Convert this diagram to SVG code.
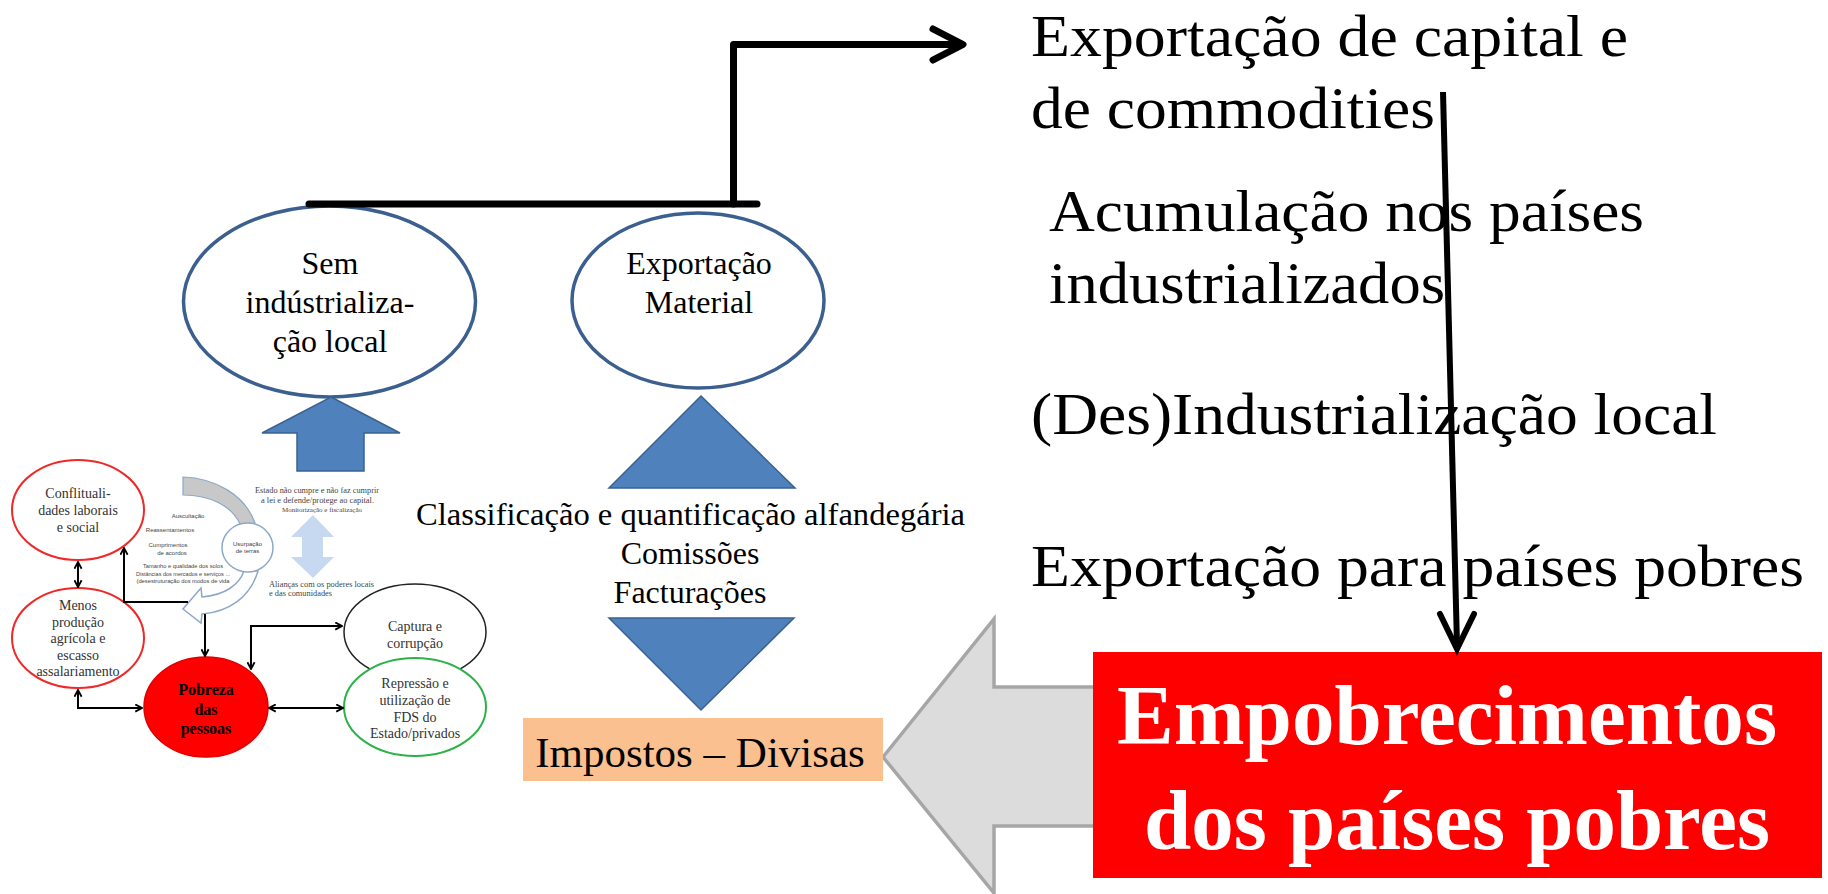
<svg xmlns="http://www.w3.org/2000/svg" width="1828" height="894" viewBox="0 0 1828 894">
<style>
.serif{font-family:"Liberation Serif","Times New Roman",serif;}
.sans{font-family:"Liberation Sans",Arial,sans-serif;}
.big{font-size:60px;fill:#000;}
.mid{font-size:32px;fill:#000;text-anchor:middle;}
.bigEll{fill:#fff;stroke:#3B5F8E;stroke-width:3.5;}
.blueShape{fill:#4F81BD;stroke:#3A6291;stroke-width:1.5;}
.thick{fill:none;stroke:#000;stroke-width:7;stroke-linecap:round;stroke-linejoin:round;}
.sm{font-size:14px;fill:#333;text-anchor:middle;}
.tiny{font-size:6px;fill:#444;text-anchor:middle;}
.small{fill:none;stroke:#000;stroke-width:2;}
.redEll{fill:#fff;stroke:#F02828;stroke-width:2;}
</style>
<defs>
<marker id="sa" viewBox="0 0 10 10" refX="9" refY="5" markerWidth="9" markerHeight="9" markerUnits="userSpaceOnUse" orient="auto-start-reverse">
<path d="M1.5,1 L9,5 L1.5,9" fill="none" stroke="#000" stroke-width="2"/>
</marker>
</defs>
<rect x="0" y="0" width="1828" height="894" fill="#fff"/>

<!-- right side texts -->
<g id="right-texts" class="serif big">
<text x="1031" y="56" textLength="597" lengthAdjust="spacingAndGlyphs">Exportação de capital e</text>
<text x="1031" y="128" textLength="404" lengthAdjust="spacingAndGlyphs">de commodities</text>
<text x="1049" y="231" textLength="595" lengthAdjust="spacingAndGlyphs">Acumulação nos países</text>
<text x="1049" y="303" textLength="396" lengthAdjust="spacingAndGlyphs">industrializados</text>
<text x="1031" y="434" textLength="686" lengthAdjust="spacingAndGlyphs">(Des)Industrialização local</text>
<text x="1031" y="586" textLength="773" lengthAdjust="spacingAndGlyphs">Exportação para países pobres</text>
</g>

<!-- grey big arrow -->
<g id="grey-arrow">
<polygon points="883,757 994,619 994,687 1095,687 1095,826 994,826 994,893" fill="#DCDCDC" stroke="#A6A6A6" stroke-width="3.5" stroke-linejoin="miter"/>
</g>

<!-- red box -->
<g id="empobrecimentos">
<rect x="1093" y="652" width="729" height="226" fill="#FF0000"/>
<text class="serif" x="1117" y="744" font-size="84" font-weight="bold" fill="#fff" textLength="660" lengthAdjust="spacingAndGlyphs">Empobrecimentos</text>
<text class="serif" x="1144" y="849" font-size="84" font-weight="bold" fill="#fff" textLength="626" lengthAdjust="spacingAndGlyphs">dos países pobres</text>
</g>

<!-- Sem industrializacao ellipse -->
<g id="sem-industrializacao">
<ellipse class="bigEll" cx="329.5" cy="301.5" rx="146" ry="95.5"/>
<text class="serif mid" x="330" y="274">Sem</text>
<text class="serif mid" x="330" y="313">indústrializa-</text>
<text class="serif mid" x="330" y="352">ção local</text>
</g>

<!-- Exportacao Material ellipse -->
<g id="exportacao-material">
<ellipse class="bigEll" cx="698" cy="300.5" rx="126" ry="87.5"/>
<text class="serif mid" x="699" y="274">Exportação</text>
<text class="serif mid" x="699" y="313">Material</text>
</g>

<!-- blue up arrow under Sem -->
<g id="blue-up-arrow">
<polygon class="blueShape" points="331,397 400,433 364,433 364,471 297,471 297,433 262,433"/>
</g>

<!-- triangles -->
<g id="tri-up"><polygon class="blueShape" points="701,396 795,488 609,488"/></g>
<g id="tri-down"><polygon class="blueShape" points="609,618 794,618 701,710"/></g>

<!-- customs text -->
<g id="alfandega">
<text class="serif" x="416" y="525" font-size="32" fill="#000" textLength="549" lengthAdjust="spacingAndGlyphs">Classificação e quantificação alfandegária</text>
<text class="serif mid" x="690" y="564">Comissões</text>
<text class="serif mid" x="690" y="603">Facturações</text>
</g>

<!-- Impostos box -->
<g id="impostos">
<rect x="523" y="718" width="360" height="63" fill="#FAC090"/>
<text class="serif" x="700" y="767" font-size="43" fill="#000" text-anchor="middle">Impostos – Divisas</text>
</g>

<!-- embedded small diagram -->
<g id="small-diagram">
<!-- curved arrow top grey band -->
<path d="M183,477 C215,478 245,495 255,523 L240,524 C232,506 210,495 183,495 Z" fill="#C8C8C8" stroke="#8EA8C8" stroke-width="1.2"/>
<!-- lower white curved arrow -->
<path d="M244,571 C239,585 225,595 202,597 L201,588 L183,609 L201,623 L202,614 C228,612 250,598 258,571 Z" fill="#fff" stroke="#8EA8C8" stroke-width="1.5"/>
<g id="usurpacao">
<ellipse cx="247.5" cy="547.5" rx="25.5" ry="24.5" fill="#fff" stroke="#8EA8C8" stroke-width="1.5"/>
<text class="sans tiny" x="247.5" y="546" font-size="6">Usurpação</text>
<text class="sans tiny" x="247.5" y="553" font-size="6">de terras</text>
</g>
<g id="small-labels-left" class="sans tiny">
<text x="188" y="518">Auscultação</text>
<text x="170" y="532">Reassentamentos</text>
<text x="168" y="547">Cumprimentos</text>
<text x="172" y="555">de acordos</text>
<text x="183" y="568" textLength="80" lengthAdjust="spacingAndGlyphs">Tamanho e qualidade dos solos</text>
<text x="183" y="576" textLength="94" lengthAdjust="spacingAndGlyphs">Distâncias dos mercados e serviços ...</text>
<text x="183" y="583" textLength="93" lengthAdjust="spacingAndGlyphs">(desestruturação dos modos de vida</text>
</g>
<g id="estado-texts" class="serif" fill="#444">
<text x="317" y="493" font-size="8.5" text-anchor="middle" textLength="124" lengthAdjust="spacingAndGlyphs">Estado não cumpre e não faz cumprir</text>
<text x="317.5" y="503" font-size="8.5" text-anchor="middle" textLength="113" lengthAdjust="spacingAndGlyphs">a lei e defende/protege ao capital.</text>
<text x="322" y="512" font-size="6.5" text-anchor="middle" textLength="80" lengthAdjust="spacingAndGlyphs">Monitorização e fiscalização</text>
<text x="269" y="587" font-size="9" textLength="105" lengthAdjust="spacingAndGlyphs">Alianças com os poderes locais</text>
<text x="269" y="596" font-size="9" textLength="63" lengthAdjust="spacingAndGlyphs">e das comunidades</text>
</g>
<g id="light-double-arrow">
<polygon points="313,515 334,537 323,537 323,557 334,557 313,578 291,557 302,557 302,537 291,537" fill="#C6D9F1"/>
</g>

<g id="conflitualidades">
<ellipse class="redEll" cx="78" cy="510" rx="66" ry="50"/>
<text class="serif sm" x="78" y="498">Conflituali-</text>
<text class="serif sm" x="78" y="515">dades laborais</text>
<text class="serif sm" x="78" y="532">e social</text>
</g>
<g id="menos-producao">
<ellipse class="redEll" cx="78" cy="638" rx="66" ry="50"/>
<text class="serif sm" x="78" y="610">Menos</text>
<text class="serif sm" x="78" y="627">produção</text>
<text class="serif sm" x="78" y="643">agrícola e</text>
<text class="serif sm" x="78" y="660">escasso</text>
<text class="serif sm" x="78" y="676">assalariamento</text>
</g>
<g id="pobreza">
<ellipse cx="206" cy="707" rx="62" ry="50" fill="#FF0000" stroke="#E00000" stroke-width="1.5"/>
<text class="serif" x="206" y="695" font-size="16" font-weight="bold" fill="#000" text-anchor="middle">Pobreza</text>
<text class="serif" x="206" y="715" font-size="16" font-weight="bold" fill="#000" text-anchor="middle">das</text>
<text class="serif" x="206" y="734" font-size="16" font-weight="bold" fill="#000" text-anchor="middle">pessoas</text>
</g>
<g id="captura">
<ellipse cx="415" cy="632" rx="71" ry="48" fill="#fff" stroke="#222" stroke-width="1.5"/>
<text class="serif sm" x="415" y="631">Captura e</text>
<text class="serif sm" x="415" y="648">corrupção</text>
</g>
<g id="repressao">
<ellipse cx="415" cy="707" rx="71" ry="49" fill="#fff" stroke="#2DB24A" stroke-width="2"/>
<text class="serif sm" x="415" y="688">Repressão e</text>
<text class="serif sm" x="415" y="705">utilização de</text>
<text class="serif sm" x="415" y="722">FDS do</text>
<text class="serif sm" x="415" y="738">Estado/privados</text>
</g>
</g>

<!-- connectors -->
<g id="connectors">
<path class="thick" d="M309,204 H757" stroke-linecap="butt"/>
<path class="thick" d="M733.5,204 V44.5 H958"/>
<polyline class="thick" points="933,29 963,44.5 933,60"/>
<path d="M1443,92 L1457,645" stroke="#000" stroke-width="6" fill="none"/>
<polyline points="1440,614 1457,649 1474,614" fill="none" stroke="#000" stroke-width="6" stroke-linecap="round" stroke-linejoin="miter"/>
<path class="small" d="M78,562 V587" marker-start="url(#sa)" marker-end="url(#sa)"/>
<path class="small" d="M188,602 H124 V548" marker-end="url(#sa)"/>
<path class="small" d="M205,614 V656" marker-end="url(#sa)"/>
<path class="small" d="M78,690 V708 H142" marker-start="url(#sa)" marker-end="url(#sa)"/>
<path class="small" d="M251,669 V626 H342" marker-start="url(#sa)" marker-end="url(#sa)"/>
<path class="small" d="M269,708 H343" marker-start="url(#sa)" marker-end="url(#sa)"/>
</g>
</svg>
